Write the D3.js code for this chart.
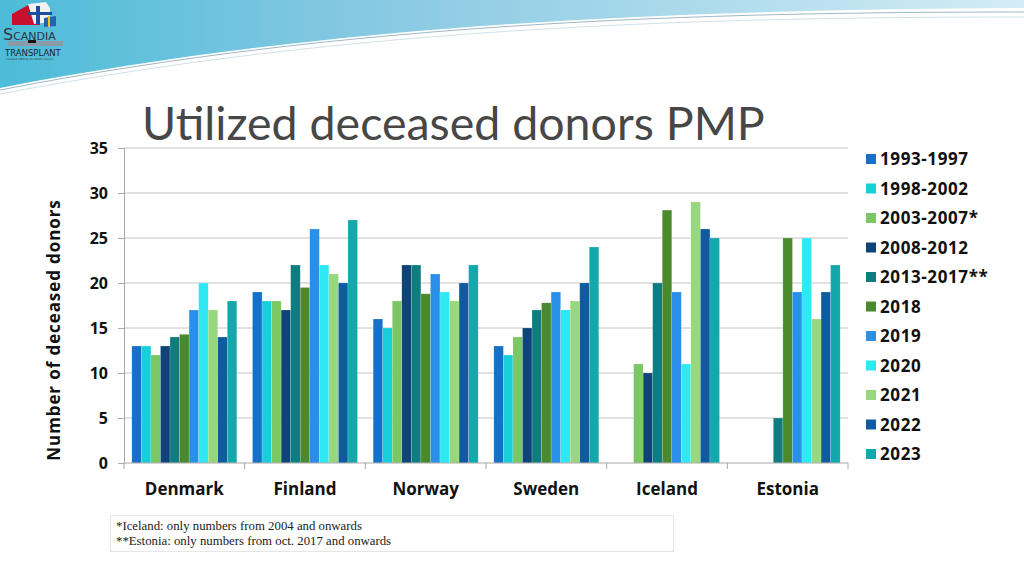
<!DOCTYPE html>
<html><head><meta charset="utf-8">
<script src="https://cdn.jsdelivr.net/npm/d3@7"></script>
<style>body{margin:0;background:#fff}svg{display:block}</style>
</head><body>
<script>
const countries = ["Denmark","Finland","Norway","Sweden","Iceland","Estonia"];
const periods = ["1993-1997","1998-2002","2003-2007*","2008-2012","2013-2017**","2018","2019","2020","2021","2022","2023"];
const colors = ["#1570c8","#17cfd8","#7ac763","#0e4478","#0f7c80","#4a8a2c","#2a8fe8","#2ee8f4","#97d77f","#0f5ba0","#12a8ac"];
const denmark = [13,13,12,13,14,14.3,17,20,17,14,18];
const finland = [19,18,18,17,22,19.5,26,22,21,20,27];
const norway  = [16,15,18,22,22,18.8,21,19,18,20,22];
const sweden  = [13,12,14,15,17,17.8,19,17,18,20,24];
const iceland = [null,null,11,10,20,28.1,19,11,29,26,25];
const estonia = [null,null,null,null,5,25,19,25,16,19,22];
const yTicks = [0,5,10,15,20,25,30,35];
const notes = ["*Iceland: only numbers from 2004 and onwards","**Estonia: only numbers from oct. 2017 and onwards"];
const values = [denmark,finland,norway,sweden,iceland,estonia];

(function(){
const W=1024,H=576;
const svg=d3.select("body").append("svg").attr("width",W).attr("height",H);
const defs=svg.append("defs");
const g1=defs.append("linearGradient").attr("id","hdr").attr("x1","0").attr("x2","1").attr("y1","0").attr("y2","0");
g1.append("stop").attr("offset","0").attr("stop-color","#4cbcd8");
g1.append("stop").attr("offset","0.35").attr("stop-color","#86c8e2");
g1.append("stop").attr("offset","1").attr("stop-color","#d3ecf5");
svg.append("path").attr("d","M0,0 L1024,0 L1024,8 C700,10 350,20 0,88 Z").attr("fill","url(#hdr)");
svg.append("path").attr("d","M0,90 C350,22 700,12 1024,12").attr("fill","none").attr("stroke","#9fb8c8").attr("stroke-width",1);
svg.append("path").attr("d","M0,94 C350,27 700,17 1024,17").attr("fill","none").attr("stroke","#c6d8e2").attr("stroke-width",0.8);
const logo=svg.append("g");
logo.append("path").attr("d","M12,14 L30,4 L40,10 L40,25 L12,25 Z").attr("fill","#c8102e");
logo.append("path").attr("d","M28,4 L46,2 L50,8 L50,22 L34,24 Z").attr("fill","#f2f2f2");
logo.append("path").attr("d","M36,6 L40,6 L40,24 L36,24 Z").attr("fill","#1a4fa0");
logo.append("path").attr("d","M28,12 L52,12 L52,15 L28,15 Z").attr("fill","#1a4fa0");
logo.append("path").attr("d","M44,18 L56,16 L56,26 L44,27 Z").attr("fill","#2a60b0");
logo.append("path").attr("d","M48,16 L50,16 L50,27 L48,27 Z").attr("fill","#f0c419");
logo.append("text").attr("x",3).attr("y",40).attr("font-family","DejaVu Sans").attr("font-size",16).attr("fill","#334").text("S").append("tspan").attr("font-size",11).text("CANDIA");
logo.append("rect").attr("x",8).attr("y",41).attr("width",55).attr("height",5).attr("fill","#8a9aa6");
logo.append("rect").attr("x",28).attr("y",40).attr("width",8).attr("height",3).attr("fill","#111");
logo.append("text").attr("x",5).attr("y",56).attr("font-family","DejaVu Sans").attr("font-size",8.5).attr("fill","#223").text("TRANSPLANT");
logo.append("text").attr("x",6).attr("y",59.5).attr("font-family","DejaVu Sans").attr("font-size",2.6).attr("fill","#333").text("Founded 1969 by the Nordic Council");

svg.append("text").attr("x",142).attr("y",140).attr("font-family","Lato").attr("font-size",46.5).attr("fill","#474747").text("Utilized deceased donors PMP");

const pl=124,pr=848,pt=148,pb=463;
const y=d3.scaleLinear().domain([0,35]).range([pb,pt]);
const x0=d3.scaleBand().domain(countries).range([pl,pr]).paddingInner(0.13).paddingOuter(0.065);
const x1=d3.scaleBand().domain(periods).range([0,x0.bandwidth()]);
const color=d3.scaleOrdinal().domain(periods).range(colors);

svg.append("g").selectAll("line").data(yTicks.slice(1)).join("line")
 .attr("x1",pl).attr("x2",pr).attr("y1",d=>y(d)).attr("y2",d=>y(d)).attr("stroke","#c4c4c4").attr("stroke-width",1);

const grp=svg.append("g").selectAll("g").data(countries).join("g").attr("transform",c=>`translate(${x0(c)},0)`);
grp.selectAll("rect").data((c,i)=>periods.map((p,j)=>({p,v:values[i][j]})).filter(d=>d.v!=null)).join("rect")
 .attr("x",d=>x1(d.p)).attr("width",x1.bandwidth()).attr("y",d=>y(d.v)).attr("height",d=>pb-y(d.v))
 .attr("fill",d=>color(d.p)).attr("stroke","#ffffff").attr("stroke-opacity",0.35).attr("stroke-width",0.5);

const ya=svg.append("g").attr("transform",`translate(${pl},0)`).call(d3.axisLeft(y).tickValues(yTicks).tickSize(6).tickPadding(10));
ya.selectAll("line,path").attr("stroke","#a8a8a8");
ya.selectAll("text").attr("font-family","Open Sans").attr("font-weight","bold").attr("font-size",16).attr("fill","#111");
const step=(pr-pl)/countries.length;
const xa=svg.append("g");
xa.append("line").attr("x1",pl).attr("x2",pr).attr("y1",pb).attr("y2",pb).attr("stroke","#a8a8a8");
xa.selectAll("line.t").data(d3.range(countries.length+1)).join("line").attr("class","t")
 .attr("x1",i=>pl+i*step).attr("x2",i=>pl+i*step).attr("y1",pb).attr("y2",pb+6).attr("stroke","#a8a8a8");
xa.selectAll("text").data(countries).join("text").attr("x",c=>x0(c)+x0.bandwidth()/2).attr("y",495)
 .attr("text-anchor","middle").attr("font-family","Open Sans").attr("font-weight","bold").attr("font-size",17).attr("fill","#111").text(c=>c);

svg.append("text").attr("transform","translate(60,330) rotate(-90)").attr("text-anchor","middle")
 .attr("font-family","Open Sans").attr("font-weight","bold").attr("font-size",17).attr("letter-spacing",0.9).attr("fill","#111").text("Number of deceased donors");

const lg=svg.append("g").selectAll("g").data(periods).join("g").attr("transform",(d,i)=>`translate(866,${159+i*29.5})`);
lg.append("rect").attr("x",0).attr("y",-5).attr("width",10).attr("height",10).attr("fill",d=>color(d));
lg.append("text").attr("x",14).attr("y",6).attr("font-family","Open Sans").attr("font-weight","bold").attr("font-size",17).attr("letter-spacing",0.6).attr("fill","#111").text(d=>d);

svg.append("rect").attr("x",110.5).attr("y",515.5).attr("width",563).attr("height",36).attr("fill","#fff").attr("stroke","#e6e6e6");
svg.append("g").selectAll("text").data(notes).join("text").attr("x",116).attr("y",(d,i)=>530+i*15)
 .attr("font-family","Liberation Serif").attr("font-size",12.8).attr("fill","#222").text(d=>d);
})();
</script>
</body></html>
